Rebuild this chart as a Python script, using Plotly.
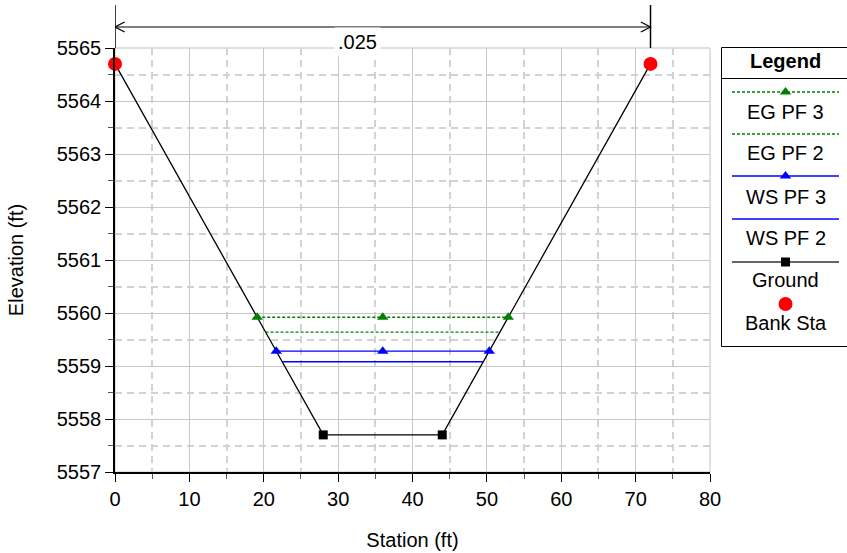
import plotly.graph_objects as go

# ---------------- data ----------------
ground_x = [0, 28, 44, 72]
ground_y = [5564.7, 5557.7, 5557.7, 5564.7]
ground_mk_x = [28, 44]
ground_mk_y = [5557.7, 5557.7]

bank_x = [0, 72]
bank_y = [5564.7, 5564.7]

eg3_x = [19.12, 36, 52.88]
eg3_y = [5559.92, 5559.92, 5559.92]
eg2_x = [20.24, 51.76]
eg2_y = [5559.64, 5559.64]
ws3_x = [21.68, 36, 50.32]
ws3_y = [5559.28, 5559.28, 5559.28]
ws2_x = [22.48, 49.52]
ws2_y = [5559.08, 5559.08]

mann_label = ".025"
mann_x = [0, 72]

legend_names = ["EG PF 3", "EG PF 2", "WS PF 3", "WS PF 2", "Ground", "Bank Sta"]

# ---------------- layout constants ----------------
W, H = 847, 553
ML, MT, MB = 115, 48, 81
PW = W - ML  # paper width (right margin 0)
PLOT_R = 710
FONT = "Liberation Sans, Arial, sans-serif"
FS = 20
GREEN = "#008000"
BLUE = "#0000ff"

def py(p):  # pixel y -> paper y
    return (H - MB - p) / (H - MT - MB)

fig = go.Figure()

# main traces
fig.add_trace(go.Scatter(x=ground_x, y=ground_y, mode="lines",
                         line=dict(color="black", width=1.3), showlegend=False))
fig.add_trace(go.Scatter(x=ground_mk_x, y=ground_mk_y, mode="markers",
                         marker=dict(symbol="square", size=9, color="black"), showlegend=False))
fig.add_trace(go.Scatter(x=ws2_x, y=ws2_y, mode="lines",
                         line=dict(color=BLUE, width=1.4), showlegend=False))
fig.add_trace(go.Scatter(x=ws3_x, y=ws3_y, mode="lines+markers",
                         line=dict(color=BLUE, width=1.4),
                         marker=dict(symbol="triangle-up", size=10, color=BLUE), showlegend=False))
fig.add_trace(go.Scatter(x=eg2_x, y=eg2_y, mode="lines",
                         line=dict(color=GREEN, width=1.4, dash="3px,2px"), showlegend=False))
fig.add_trace(go.Scatter(x=eg3_x, y=eg3_y, mode="lines+markers",
                         line=dict(color=GREEN, width=1.4, dash="3px,2px"),
                         marker=dict(symbol="triangle-up", size=10, color=GREEN), showlegend=False))
fig.add_trace(go.Scatter(x=bank_x, y=bank_y, mode="markers",
                         marker=dict(symbol="circle", size=14, color="red"),
                         showlegend=False, cliponaxis=False))

# ---------------- legend (drawn on a hidden pixel-unit axis) ----------------
LX0, LX1, LXC = 732, 839, 785.5
leg_line_y = [92, 134, 176, 219, 262]
leg_text_y = [112, 153, 197, 238, 280, 323]
leg_styles = [
    dict(color=GREEN, width=1.4, dash="3px,2px"),
    dict(color=GREEN, width=1.4, dash="3px,2px"),
    dict(color=BLUE, width=1.4),
    dict(color=BLUE, width=1.4),
    dict(color="#333333", width=1.5),
]
leg_markers = ["triangle-up", None, "triangle-up", None, "square"]
leg_mcolors = [GREEN, None, BLUE, None, "black"]
for yl, st, mk, mc in zip(leg_line_y, leg_styles, leg_markers, leg_mcolors):
    fig.add_trace(go.Scatter(x=[LX0, LX1], y=[yl, yl], mode="lines", line=st,
                             xaxis="x2", yaxis="y2", showlegend=False, cliponaxis=False))
    if mk:
        fig.add_trace(go.Scatter(x=[LXC], y=[yl], mode="markers",
                                 marker=dict(symbol=mk, size=10 if mk != "square" else 9, color=mc),
                                 xaxis="x2", yaxis="y2", showlegend=False, cliponaxis=False))
fig.add_trace(go.Scatter(x=[LXC], y=[304], mode="markers",
                         marker=dict(symbol="circle", size=14, color="red"),
                         xaxis="x2", yaxis="y2", showlegend=False, cliponaxis=False))

annotations = []
annotations.append(dict(x=785, y=61, xref="x2", yref="y2", text="<b>Legend</b>", showarrow=False,
                        font=dict(size=FS, color="black", family=FONT)))
for name, ty in zip(legend_names, leg_text_y):
    annotations.append(dict(x=LXC, y=ty, xref="x2", yref="y2", text=name, showarrow=False,
                            font=dict(size=FS, color="black", family=FONT)))

# Manning's n label
annotations.append(dict(x=32.6, y=py(27), xref="x", yref="paper", text=mann_label, showarrow=False,
                        bgcolor="white", borderpad=3,
                        font=dict(size=FS, color="black", family=FONT)))

shapes = []
# plot frame (gray)
shapes.append(dict(type="rect", xref="paper", yref="paper", x0=0, x1=(PLOT_R - ML) / PW, y0=0, y1=1,
                   line=dict(color="#c0c0c0", width=1), layer="below"))
# legend box (right edge runs off the page)
lb_x0 = (721.5 - ML) / PW
shapes.append(dict(type="rect", xref="paper", yref="paper", x0=lb_x0, x1=1.05,
                   y0=py(346.5), y1=py(47.5), line=dict(color="black", width=1)))
shapes.append(dict(type="line", xref="paper", yref="paper", x0=lb_x0, x1=1.05,
                   y0=py(78.5), y1=py(78.5), line=dict(color="black", width=1)))
# Manning's n dimension line
for xv in mann_x:
    shapes.append(dict(type="line", xref="x", yref="paper", x0=xv, x1=xv, y0=1, y1=py(5),
                       line=dict(color="black", width=1.5)))
shapes.append(dict(type="line", xref="x", yref="paper", x0=mann_x[0], x1=mann_x[1],
                   y0=py(27), y1=py(27), line=dict(color="black", width=1.2)))
cw, ch = 1.3, 5 / (H - MT - MB)
shapes.append(dict(type="path", xref="x", yref="paper",
                   path=f"M {mann_x[0]+cw},{py(27)+ch} L {mann_x[0]},{py(27)} L {mann_x[0]+cw},{py(27)-ch}",
                   line=dict(color="black", width=1.2)))
shapes.append(dict(type="path", xref="x", yref="paper",
                   path=f"M {mann_x[1]-cw},{py(27)+ch} L {mann_x[1]},{py(27)} L {mann_x[1]-cw},{py(27)-ch}",
                   line=dict(color="black", width=1.2)))

axis_font = dict(size=FS, color="black", family=FONT)
fig.update_layout(
    width=W, height=H,
    margin=dict(l=ML, r=0, t=MT, b=MB, autoexpand=False),
    paper_bgcolor="white", plot_bgcolor="white",
    font=dict(family=FONT, size=FS, color="black"),
    xaxis=dict(domain=[0, (PLOT_R - ML) / PW], range=[0, 80], dtick=10, tick0=0,
               automargin=False,
               showline=True, linecolor="black", linewidth=1.5,
               ticks="outside", ticklen=8, tickcolor="black", tickwidth=1.2,
               showgrid=True, gridcolor="#c8c8c8", gridwidth=1.3, zeroline=False,
               minor=dict(dtick=5, ticks="outside", ticklen=5, tickcolor="#555555",
                          showgrid=True, gridcolor="#d2d2d2", griddash="7px,5px", gridwidth=1.5),
               tickfont=axis_font,
               title=dict(text="Station (ft)", font=axis_font, standoff=24)),
    yaxis=dict(range=[5557, 5565], dtick=1, tick0=5557,
               automargin=False,
               showline=True, linecolor="black", linewidth=1.5,
               ticks="outside", ticklen=8, tickcolor="black", tickwidth=1.2,
               showgrid=True, gridcolor="#c8c8c8", gridwidth=1.3, zeroline=False,
               minor=dict(dtick=0.5, ticks="outside", ticklen=5, tickcolor="#555555",
                          showgrid=True, gridcolor="#d2d2d2", griddash="7px,5px", gridwidth=1.5),
               tickfont=axis_font, tickformat="d",
               title=dict(text="Elevation (ft)", font=axis_font, standoff=28)),
    xaxis2=dict(domain=[(721 - ML) / PW, 1], range=[721, W], visible=False, anchor="y2",
                fixedrange=True, automargin=False),
    yaxis2=dict(domain=[0, 1], range=[H - MB, MT], visible=False, anchor="x2", fixedrange=True,
                automargin=False),
    annotations=annotations,
    shapes=shapes,
)

fig.write_html("out.html", config={"displayModeBar": False, "responsive": False},
               post_script=("document.documentElement.style.margin='0px';"
                            "document.documentElement.style.overflow='hidden';"
                            "document.body.style.margin='0px';"
                            "document.body.style.overflow='hidden';"))
